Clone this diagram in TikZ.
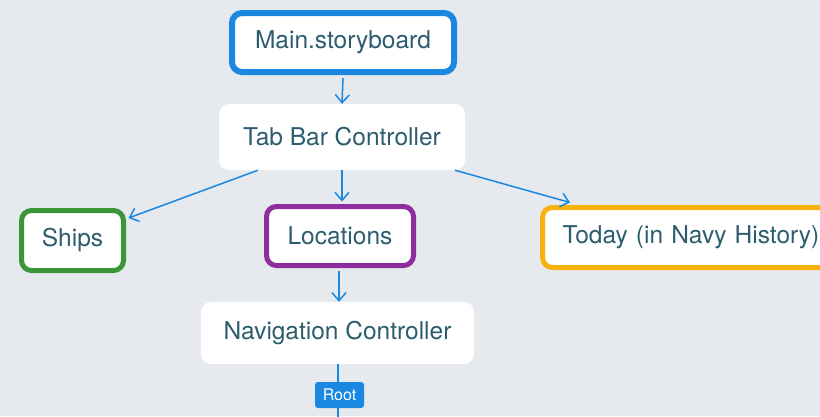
\documentclass[tikz,border=0pt]{standalone}
\usepackage{fontspec}
\setmainfont{TeX Gyre Heros}
\usetikzlibrary{arrows.meta,calc}
\definecolor{bgcol}{HTML}{E6E9ED}
\definecolor{linkblue}{HTML}{1A88E0}
\definecolor{txtcol}{HTML}{2D5C6E}
\definecolor{shipgreen}{HTML}{3A9638}
\definecolor{locpurple}{HTML}{8E2E9E}
\definecolor{todayorange}{HTML}{F7B20E}
\tikzset{
  card/.style={fill=white, rounded corners=10pt, inner sep=0pt, text=txtcol,
    font=\fontsize{24.5}{28}\selectfont},
  framed/.style={card, draw=#1, line width=5pt},
  link/.style={draw=linkblue, line width=1.5pt,
    -{Straight Barb[length=8pt,width=14pt,line width=1.5pt]}},
  tag/.style={fill=linkblue, rounded corners=3pt, inner sep=0pt, text=white,
    font=\fontsize{16}{18}\selectfont, minimum width=49pt, minimum height=26pt}
}
\begin{document}
\begin{tikzpicture}[x=1pt,y=-1pt]
  \fill[bgcol] (0,0) rectangle (820,416);
  \useasboundingbox (0,0) rectangle (820,416);
  \clip (0,0) rectangle (820,416);

  \node[framed=linkblue, line width=6pt, minimum width=222pt, minimum height=59pt]
    (main) at (343,42.5) {Main.storyboard};
  \node[card, minimum width=246pt, minimum height=66pt]
    (tab) at (342,137) {Tab Bar Controller};
  \node[framed=shipgreen, minimum width=102pt, minimum height=60pt]
    (ships) at (72.5,240.5) {Ships};
  \node[framed=locpurple, minimum width=147pt, minimum height=59pt]
    (loc) at (340,236) {Locations};
  \node[framed=todayorange, minimum width=290pt, minimum height=60pt, text width=276pt, align=left]
    (today) at (687.5,237.5) {\hspace*{13pt}Today (in Navy History)};
  \node[card, minimum width=273pt, minimum height=62pt]
    (nav) at (337.5,333) {Navigation Controller};

  \coordinate (navend) at (338,418);
  \draw[linkblue, line width=1.5pt] ($(nav.south)+(0.5,0)$) -- (navend);
  \node[tag] (root) at (339.5,395) {Root};

  \draw[link] ($(main.south)+(0,3)$) -- (tab.north);
  \draw[link] ($(tab.south)+(-84,0)$) -- ($(ships.north east)+(2.5,10)$);
  \draw[link] (tab.south) -- ($(loc.north)+(2,-2.5)$);
  \draw[link] ($(tab.south)+(113,0)$) -- ($(today.north west)+(30,-2.5)$);
  \draw[link] ($(loc.south)+(-1,2.5)$) -- ($(nav.north)+(1.5,0)$);
\end{tikzpicture}
\end{document}
